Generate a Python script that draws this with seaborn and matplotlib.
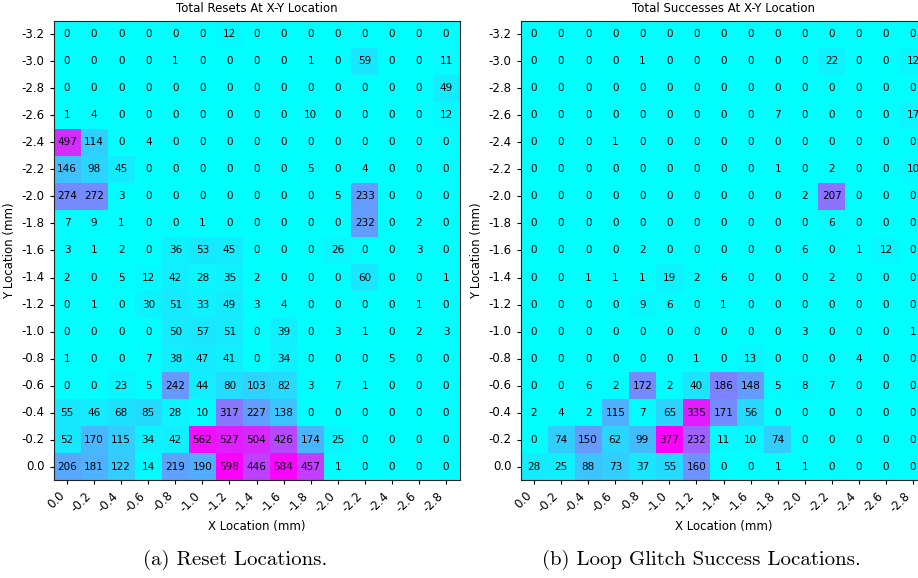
"""reset and glitch success heatmaps over the x-y scan grid"""

import pandas as pd
import matplotlib
matplotlib.use("Agg")
import matplotlib.pyplot as plt
import seaborn as sns

x_labels = ["0.0", "-0.2", "-0.4", "-0.6", "-0.8", "-1.0", "-1.2", "-1.4",
            "-1.6", "-1.8", "-2.0", "-2.2", "-2.4", "-2.6", "-2.8"]
y_labels = ["-3.2", "-3.0", "-2.8", "-2.6", "-2.4", "-2.2", "-2.0", "-1.8",
            "-1.6", "-1.4", "-1.2", "-1.0", "-0.8", "-0.6", "-0.4", "-0.2", "0.0"]

resets = [
    [0, 0, 0, 0, 0, 0, 12, 0, 0, 0, 0, 0, 0, 0, 0],
    [0, 0, 0, 0, 1, 0, 0, 0, 0, 1, 0, 59, 0, 0, 11],
    [0, 0, 0, 0, 0, 0, 0, 0, 0, 0, 0, 0, 0, 0, 49],
    [1, 4, 0, 0, 0, 0, 0, 0, 0, 10, 0, 0, 0, 0, 12],
    [497, 114, 0, 4, 0, 0, 0, 0, 0, 0, 0, 0, 0, 0, 0],
    [146, 98, 45, 0, 0, 0, 0, 0, 0, 5, 0, 4, 0, 0, 0],
    [274, 272, 3, 0, 0, 0, 0, 0, 0, 0, 5, 233, 0, 0, 0],
    [7, 9, 1, 0, 0, 1, 0, 0, 0, 0, 0, 232, 0, 2, 0],
    [3, 1, 2, 0, 36, 53, 45, 0, 0, 0, 26, 0, 0, 3, 0],
    [2, 0, 5, 12, 42, 28, 35, 2, 0, 0, 0, 60, 0, 0, 1],
    [0, 1, 0, 30, 51, 33, 49, 3, 4, 0, 0, 0, 0, 1, 0],
    [0, 0, 0, 0, 50, 57, 51, 0, 39, 0, 3, 1, 0, 2, 3],
    [1, 0, 0, 7, 38, 47, 41, 0, 34, 0, 0, 0, 5, 0, 0],
    [0, 0, 23, 5, 242, 44, 80, 103, 82, 3, 7, 1, 0, 0, 0],
    [55, 46, 68, 85, 28, 10, 317, 227, 138, 0, 0, 0, 0, 0, 0],
    [52, 170, 115, 34, 42, 562, 527, 504, 426, 174, 25, 0, 0, 0, 0],
    [206, 181, 122, 14, 219, 190, 598, 446, 584, 457, 1, 0, 0, 0, 0],
]

successes = [
    [0, 0, 0, 0, 0, 0, 0, 0, 0, 0, 0, 0, 0, 0, 0],
    [0, 0, 0, 0, 1, 0, 0, 0, 0, 0, 0, 22, 0, 0, 12],
    [0, 0, 0, 0, 0, 0, 0, 0, 0, 0, 0, 0, 0, 0, 0],
    [0, 0, 0, 0, 0, 0, 0, 0, 0, 7, 0, 0, 0, 0, 17],
    [0, 0, 0, 1, 0, 0, 0, 0, 0, 0, 0, 0, 0, 0, 0],
    [0, 0, 0, 0, 0, 0, 0, 0, 0, 1, 0, 2, 0, 0, 10],
    [0, 0, 0, 0, 0, 0, 0, 0, 0, 0, 2, 207, 0, 0, 0],
    [0, 0, 0, 0, 0, 0, 0, 0, 0, 0, 0, 6, 0, 0, 0],
    [0, 0, 0, 0, 2, 0, 0, 0, 0, 0, 6, 0, 1, 12, 0],
    [0, 0, 1, 1, 1, 19, 2, 6, 0, 0, 0, 2, 0, 0, 0],
    [0, 0, 0, 0, 9, 6, 0, 1, 0, 0, 0, 0, 0, 0, 0],
    [0, 0, 0, 0, 0, 0, 0, 0, 0, 0, 3, 0, 0, 0, 1],
    [0, 0, 0, 0, 0, 0, 1, 0, 13, 0, 0, 0, 4, 0, 0],
    [0, 0, 6, 2, 172, 2, 40, 186, 148, 5, 8, 7, 0, 0, 0],
    [2, 4, 2, 115, 7, 65, 335, 171, 56, 0, 0, 0, 0, 0, 0],
    [0, 74, 150, 62, 99, 377, 232, 11, 10, 74, 0, 0, 0, 0, 0],
    [28, 25, 88, 73, 37, 55, 160, 0, 0, 1, 1, 0, 0, 0, 0],
]

panels = [
    (resets, "Total Resets At X-Y Location", "(a) Reset Locations."),
    (successes, "Total Successes At X-Y Location", "(b) Loop Glitch Success Locations."),
]

W, H = 918, 578
fig = plt.figure(figsize=(W / 100, H / 100), dpi=100)

# axes boxes in pixels: left, top, right, bottom (the right panel runs off the page)
boxes = [(53.5, 20.8, 459.6, 480.2), (520.5, 20.8, 926.6, 480.2)]
captions_x = [235, 701]

for (values, title, caption), (l, t, r, b), cx in zip(panels, boxes, captions_x):
    ax = fig.add_axes([l / W, 1 - b / H, (r - l) / W, (b - t) / H])
    df = pd.DataFrame(values, index=y_labels, columns=x_labels)
    sns.heatmap(df, ax=ax, cmap="cool", cbar=False, annot=True, fmt="d",
                annot_kws={"fontsize": 7.5, "color": "black"},
                xticklabels=x_labels, yticklabels=y_labels)
    for s in ax.spines.values():
        s.set_visible(True)
        s.set_color("#222222")
        s.set_linewidth(0.8)
    ax.set_title(title, fontsize=8.5)
    ax.set_xlabel("X Location (mm)", fontsize=8.5)
    ax.set_ylabel("Y Location (mm)", fontsize=8.5)
    ax.tick_params(labelsize=8.5, length=3)
    plt.setp(ax.get_xticklabels(), rotation=45, ha="right", rotation_mode="default")
    plt.setp(ax.get_yticklabels(), rotation=0)
    fig.text(cx / W, 1 - 560 / H, caption, fontfamily="cmr10", fontsize=15,
             ha="center", va="center")

fig.savefig("out.png", dpi=100)
plt.close(fig)
